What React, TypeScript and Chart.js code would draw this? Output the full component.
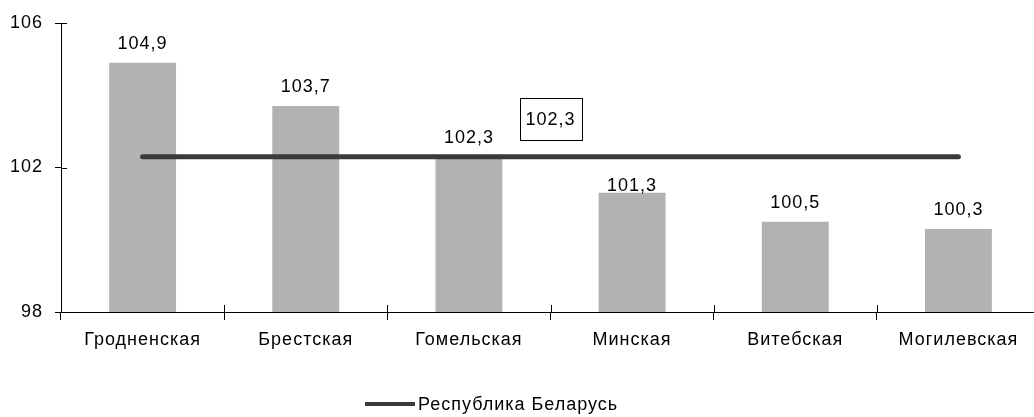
import { useEffect, useRef } from 'react';
import { Chart, registerables, Plugin } from 'chart.js';

Chart.register(...registerables);

const regions = ['Гродненская', 'Брестская', 'Гомельская', 'Минская', 'Витебская', 'Могилевская'];
const regionValues = [104.9, 103.7, 102.3, 101.3, 100.5, 100.3];
const republicValue = 102.3;
const republicLabel = 'Республика Беларусь';
const yTicks = [98, 102, 106];

const FONT = '"Liberation Sans", Arial, sans-serif';
const fmt = (v: number) => v.toFixed(1).replace('.', ',');

const extras: Plugin<'bar'> = {
  id: 'extras',
  beforeLayout(chart) {
    (chart.ctx as any).letterSpacing = '1px';
  },
  beforeDraw(chart) {
    (chart.ctx as any).letterSpacing = '1px';
  },
  afterDraw(chart) {
    const ctx = chart.ctx;
    const x = chart.scales.x;
    const y = chart.scales.y;
    const area = chart.chartArea;
    ctx.save();
    (ctx as any).letterSpacing = '1px';

    // inner halves of the tick marks
    ctx.strokeStyle = '#000';
    ctx.lineWidth = 1;
    ctx.beginPath();
    const step = (area.right - area.left) / regions.length;
    for (let i = 1; i <= regions.length; i++) {
      const px = Math.round(area.left + i * step) + 0.5;
      ctx.moveTo(px, area.bottom);
      ctx.lineTo(px, area.bottom - 7);
    }
    yTicks.forEach(t => {
      const py = Math.round(y.getPixelForValue(t)) + 0.5;
      ctx.moveTo(area.left, py);
      ctx.lineTo(area.left + 6, py);
    });
    ctx.stroke();

    // bar value labels (the Минская one sits right on its bar)
    ctx.fillStyle = '#000';
    ctx.font = `18px ${FONT}`;
    ctx.textAlign = 'center';
    ctx.textBaseline = 'alphabetic';
    const meta = chart.getDatasetMeta(1);
    meta.data.forEach((bar, i) => {
      const lift = i === 3 ? 2 : 14;
      ctx.fillText(fmt(regionValues[i]), bar.x, bar.y - lift);
    });

    // boxed label of the republic line
    const bx = (x.getPixelForValue(2) + x.getPixelForValue(3)) / 2;
    const by = y.getPixelForValue(republicValue) - 38;
    ctx.strokeStyle = '#000';
    ctx.strokeRect(Math.round(bx - 31) + 0.5, Math.round(by - 21) + 0.5, 62, 42);
    ctx.textBaseline = 'middle';
    ctx.fillText(fmt(republicValue), bx, by + 1);

    // legend
    ctx.strokeStyle = '#3a3a3a';
    ctx.lineWidth = 4;
    ctx.beginPath();
    ctx.moveTo(365, 404);
    ctx.lineTo(415, 404);
    ctx.stroke();
    ctx.textAlign = 'left';
    ctx.textBaseline = 'alphabetic';
    ctx.fillText(republicLabel, 418, 410);
    ctx.restore();
  },
};

export default function App() {
  const canvasRef = useRef<HTMLCanvasElement>(null);
  const chartRef = useRef<Chart | null>(null);

  useEffect(() => {
    document.body.style.margin = '0';
    if (!canvasRef.current) return;
    if (chartRef.current) chartRef.current.destroy();

    chartRef.current = new Chart(canvasRef.current, {
      type: 'bar',
      data: {
        labels: regions,
        datasets: [
          {
            type: 'line',
            label: republicLabel,
            data: regions.map(() => republicValue),
            borderColor: '#3a3a3a',
            borderWidth: 5,
            borderCapStyle: 'round',
            pointRadius: 0,
            order: 0,
          } as any,
          {
            type: 'bar',
            label: 'regions',
            data: regionValues,
            backgroundColor: '#b2b2b2',
            barPercentage: 0.41,
            categoryPercentage: 1,
            order: 1,
          },
        ],
      },
      options: {
        animation: false,
        responsive: false,
        devicePixelRatio: 1,
        layout: { padding: { top: 23, right: 2, left: 0, bottom: 0 } },
        plugins: {
          legend: { display: false },
          tooltip: { enabled: false },
        },
        scales: {
          x: {
            offset: true,
            grid: {
              offset: true,
              drawOnChartArea: false,
              drawTicks: true,
              tickLength: 8,
              color: '#000',
            },
            border: { color: '#000', width: 1 },
            ticks: {
              color: '#000',
              padding: 9,
              font: { family: FONT, size: 18 },
              maxRotation: 0,
              autoSkip: false,
            },
            afterFit(scale) {
              scale.height = 105;
            },
          },
          y: {
            min: 98,
            max: 106,
            afterBuildTicks(scale) {
              scale.ticks = yTicks.map(v => ({ value: v }));
            },
            grid: {
              drawOnChartArea: false,
              tickLength: 6,
              color: '#000',
            },
            border: { color: '#000', width: 1 },
            ticks: {
              color: '#000',
              padding: 12,
              font: { family: FONT, size: 18 },
              callback: v => String(v),
            },
            afterFit(scale) {
              scale.width = 61;
            },
          },
        },
      },
      plugins: [extras as any],
    });

    return () => {
      if (chartRef.current) {
        chartRef.current.destroy();
        chartRef.current = null;
      }
    };
  }, []);

  return (
    <div style={{ width: 1034, height: 417, overflow: 'hidden', position: 'relative' }}>
      <canvas ref={canvasRef} width={1042} height={417} style={{ display: 'block', width: 1042, height: 417 }} />
    </div>
  );
}
